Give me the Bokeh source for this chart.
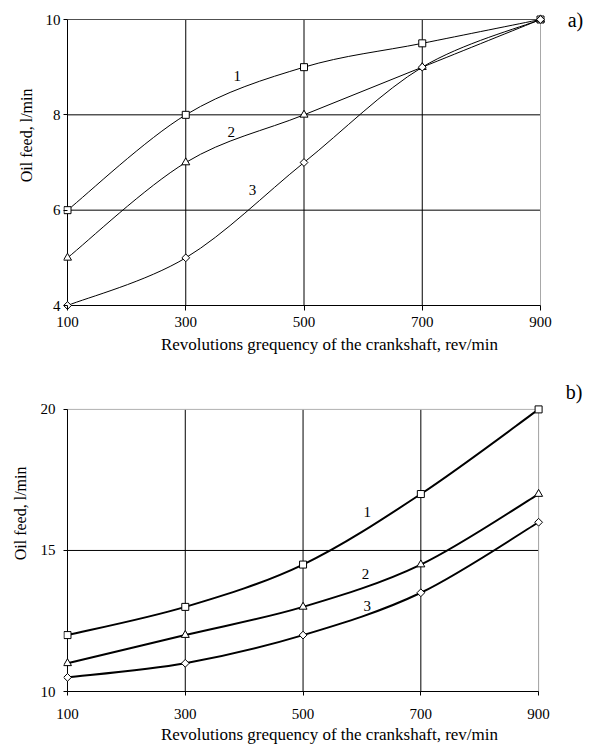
import math
from bokeh.plotting import figure
from bokeh.layouts import column
from bokeh.models import Range1d, FixedTicker, Label, Title
from bokeh.embed import file_html
from bokeh.resources import INLINE

# ---------------- data ----------------
rpm = [100, 300, 500, 700, 900]
a_curve1 = [6, 8, 9, 9.5, 10]
a_curve2 = [5, 7, 8, 9, 10]
a_curve3 = [4, 5, 7, 9, 10]
b_curve1 = [12, 13, 14.5, 17, 20]
b_curve2 = [11, 12, 13, 14.5, 17]
b_curve3 = [10.5, 11, 12, 13.5, 16]
x_ticks = [100, 300, 500, 700, 900]
a_y_ticks = [4, 6, 8, 10]
b_y_ticks = [10, 15, 20]
a_grid_y = [6, 8]
b_grid_y = [15]
grid_x = [300, 500, 700]
curve_names = ["1", "2", "3"]
markers = ["square", "triangle", "diamond"]
x_title = "Revolutions grequency of the crankshaft, rev/min"
y_title = "Oil feed, l/min"

FONT = "Liberation Serif"
W = 595


def smooth(xs, ys):
    """Catmull-Rom style Bezier control points (Excel-like smoothed line)."""
    n = len(xs)
    out = dict(x0=[], y0=[], x1=[], y1=[], cx0=[], cy0=[], cx1=[], cy1=[])
    for i in range(n - 1):
        xp, yp = (xs[i - 1], ys[i - 1]) if i > 0 else (xs[i], ys[i])
        xn, yn = (xs[i + 2], ys[i + 2]) if i + 2 < n else (xs[i + 1], ys[i + 1])
        out["x0"].append(xs[i]); out["y0"].append(ys[i])
        out["x1"].append(xs[i + 1]); out["y1"].append(ys[i + 1])
        out["cx0"].append(xs[i] + (xs[i + 1] - xp) / 6)
        out["cy0"].append(ys[i] + (ys[i + 1] - yp) / 6)
        out["cx1"].append(xs[i + 1] - (xn - xs[i]) / 6)
        out["cy1"].append(ys[i + 1] - (yn - ys[i]) / 6)
    return out


def frame_range(v_lo, v_hi, p_lo, p_hi, e_lo, e_hi):
    k = (p_hi - p_lo) / (v_hi - v_lo)
    return v_lo + (e_lo - p_lo) / k, v_hi + (e_hi - p_hi) / k


def make_panel(series, yticks, grid_y, top_color, right_color, label_pos, tag, tag_y,
               height, px_x, px_y, pad_l, pad_b, frame_t, lw,
               xl_standoff, xt_standoff, yl_standoff, yt_standoff, yt_offset):
    y_lo, y_hi = yticks[0], yticks[-1]
    frame_l = px_x[0] - pad_l
    frame_b = px_y[0] + pad_b
    xs, xe = frame_range(x_ticks[0], x_ticks[-1], px_x[0], px_x[1], frame_l, W)
    ys, ye = frame_range(y_lo, y_hi, px_y[0], px_y[1], frame_b, frame_t)
    p = figure(width=W, height=height, output_backend="svg", toolbar_location=None,
               x_range=Range1d(xs, xe), y_range=Range1d(ys, ye),
               min_border_left=frame_l, min_border_right=0,
               min_border_top=frame_t, min_border_bottom=height - frame_b)
    p.outline_line_color = None
    p.background_fill_color = "white"
    p.border_fill_color = "white"
    p.grid.visible = False

    for ax in (p.xaxis[0], p.yaxis[0]):
        ax.axis_line_color = None
        ax.major_tick_line_color = "black"
        ax.minor_tick_line_color = None
        ax.major_label_text_font = FONT
        ax.major_label_text_font_size = "15px"
        ax.major_label_text_color = "black"
        ax.axis_label_text_font = FONT
        ax.axis_label_text_font_style = "normal"
        ax.axis_label_text_color = "black"
    p.xaxis.major_tick_in = pad_b
    p.xaxis.major_tick_out = max(0, 4 - pad_b)
    p.yaxis.major_tick_in = pad_l
    p.yaxis.major_tick_out = max(0, 4 - pad_l)
    p.xaxis.ticker = FixedTicker(ticks=x_ticks)
    p.yaxis.ticker = FixedTicker(ticks=yticks)
    p.xaxis.axis_label = x_title
    p.xaxis.axis_label_text_font_size = "17px"
    p.xaxis.major_label_standoff = xl_standoff
    p.xaxis.axis_label_standoff = xt_standoff
    p.yaxis.major_label_standoff = yl_standoff
    p.add_layout(Title(text=y_title, align="right", offset=yt_offset, standoff=yt_standoff,
                       text_font=FONT, text_font_size="16px", text_font_style="normal",
                       text_color="black"), "left")

    # grid lines
    p.segment(x0=grid_x, x1=grid_x, y0=[y_lo] * len(grid_x), y1=[y_hi] * len(grid_x),
              line_color="black", line_width=1)
    p.segment(x0=[x_ticks[0]] * len(grid_y), x1=[x_ticks[-1]] * len(grid_y),
              y0=grid_y, y1=grid_y, line_color="black", line_width=1)
    # plot-area border (top and right) in grey
    p.segment(x0=[x_ticks[0]], x1=[x_ticks[-1]], y0=[y_hi], y1=[y_hi],
              line_color=top_color, line_width=1)
    p.segment(x0=[x_ticks[-1]], x1=[x_ticks[-1]], y0=[y_lo], y1=[y_hi],
              line_color=right_color, line_width=1)
    # axis lines (bounded to the data extent)
    p.segment(x0=[x_ticks[0]], x1=[x_ticks[0]], y0=[y_lo], y1=[y_hi],
              line_color="black", line_width=1)
    p.segment(x0=[x_ticks[0]], x1=[x_ticks[-1]], y0=[y_lo], y1=[y_lo],
              line_color="black", line_width=1)

    for ys_ in series:
        seg = smooth(rpm, ys_)
        p.bezier(x0="x0", y0="y0", x1="x1", y1="y1", cx0="cx0", cy0="cy0",
                 cx1="cx1", cy1="cy1", source=seg, line_color="black", line_width=lw)
    for ys_, mk, name, (lx, ly) in zip(series, markers, curve_names, label_pos):
        if mk == "diamond":
            p.scatter(rpm, ys_, marker="square", angle=math.pi / 4, size=5.5,
                      fill_color="white", line_color="black", line_width=1)
        else:
            p.scatter(rpm, ys_, marker=mk, size=7 if mk == "square" else 8,
                      fill_color="white", line_color="black", line_width=1)
        p.add_layout(Label(x=lx, y=ly, text=name, text_font=FONT, text_font_size="15px",
                           text_align="center", text_baseline="middle", text_color="black"))
    p.add_layout(Label(x=946, y=tag_y, text=tag, text_font=FONT, text_font_size="20px",
                       text_align="left", text_baseline="middle", text_color="black"))
    return p


p1 = make_panel([a_curve1, a_curve2, a_curve3], a_y_ticks, a_grid_y, "#505050", "#a8a8a8",
                [(387, 8.82), (377, 7.65), (413, 6.43)], "a)", 10.0,
                height=360, px_x=(67, 540), px_y=(305, 19), pad_l=4, pad_b=5,
                frame_t=8, lw=1, xl_standoff=6, xt_standoff=5,
                yl_standoff=3, yt_standoff=15, yt_offset=80)
p2 = make_panel([b_curve1, b_curve2, b_curve3], b_y_ticks, b_grid_y, "#b0b0b0", "#a0a0a0",
                [(609, 16.36), (606, 14.17), (609, 13.04)], "b)", 20.6,
                height=386, px_x=(66, 538), px_y=(332, 49), pad_l=4, pad_b=4,
                frame_t=18, lw=2, xl_standoff=13, xt_standoff=3,
                yl_standoff=8, yt_standoff=18, yt_offset=88)

layout = column(p1, p2, spacing=0)
open("out.html", "w").write(file_html(layout, INLINE))
